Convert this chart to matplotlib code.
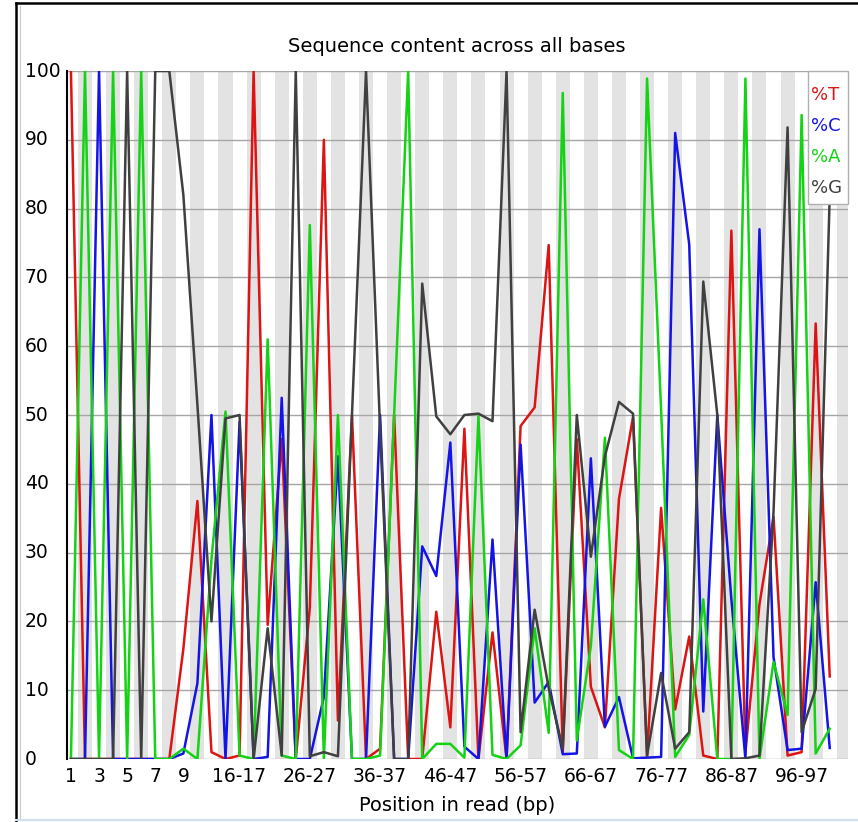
import matplotlib
matplotlib.use('Agg')
import matplotlib.pyplot as plt
import matplotlib.transforms as mtransforms
from matplotlib.lines import Line2D
from matplotlib.patches import Rectangle

# positions in read: 1..9 single, then pairs up to 100-101
positions = [str(i) for i in range(1, 10)] + ['%d-%d' % (i, i + 1) for i in range(10, 101, 2)]

t_pct = [100, 0, 0, 0, 0, 0, 0, 0, 16, 37.5,
         1, 0, 0.5, 100, 19.5, 46.5, 0, 22, 90, 5.6,
         50, 0, 1.5, 50, 0, 0, 21.4, 4.6, 48, 0,
         18.4, 0, 48.4, 51.1, 74.7, 1, 46.5, 10.5, 4.6, 37.8,
         49.7, 0.4, 36.5, 7.2, 17.8, 0.5, 0, 76.8, 1, 22.5,
         35.2, 0.5, 1, 63.3, 12]
c_pct = [0, 0, 100, 0, 0, 0, 0, 0, 0.8, 11,
         50, 0, 49, 0, 0.3, 52.5, 0, 0, 9, 44,
         0, 0, 50, 0, 0, 30.9, 26.6, 46, 1.8, 0,
         31.9, 0, 45.7, 8.2, 11.2, 0.7, 0.8, 43.7, 4.7, 9,
         0.1, 0.2, 0.3, 91, 74.8, 6.9, 50, 23.2, 0, 77,
         14.8, 1.3, 1.5, 25.7, 1.6]
a_pct = [0, 100, 0, 100, 0, 100, 0, 0, 1.5, 0,
         29, 50.5, 0.5, 0, 61, 0.5, 0, 77.6, 0, 50,
         0, 0, 0.5, 50, 100, 0, 2.2, 2.2, 0.2, 49.8,
         0.6, 0, 2, 19, 3.8, 96.8, 2.7, 16.4, 46.7, 1.3,
         0, 98.9, 50.7, 0.3, 3.5, 23.2, 0, 0, 98.9, 0,
         14.1, 6.4, 93.6, 0.8, 4.4]
g_pct = [0, 0, 0, 0, 100, 0, 100, 100, 82, 51.5,
         20, 49.5, 50, 0, 19, 0.5, 100, 0.4, 1, 0.4,
         50, 100, 48, 0, 0, 69.1, 49.8, 47.2, 50, 50.2,
         49.1, 100, 3.9, 21.7, 10.3, 1.5, 50, 29.4, 44, 51.9,
         50.2, 0.5, 12.5, 1.5, 3.9, 69.4, 50, 0, 0.1, 0.5,
         35.9, 91.8, 3.9, 10.2, 82]

tick_idx = [0, 2, 4, 6, 8, 12, 17, 22, 27, 32, 37, 42, 47, 52]
y_ticks = list(range(0, 101, 10))

series = [('%T', t_pct, '#dc1414'), ('%C', c_pct, '#1414e6'),
          ('%A', a_pct, '#14d214'), ('%G', g_pct, '#404040')]

W, H = 858, 822
fig = plt.figure(figsize=(W / 100, H / 100), dpi=100)
fig.patch.set_facecolor('white')
ax = fig.add_axes([67 / W, 63 / H, 781 / W, 688 / H])

n = len(positions)
x = list(range(n))

for k in range(1, n + 1, 2):
    ax.axvspan(k - 0.5, k + 0.5, color='#e3e3e3', lw=0, zorder=0)
for v in y_ticks:
    ax.axhline(v, color='#a6a6a6', lw=1, zorder=1)

for name, vals, col in series:
    ax.plot(x, vals, color=col, lw=1.8, zorder=3)

ax.set_xlim(-0.28, 55.3)
ax.set_ylim(0, 100)
for s in ['top', 'right', 'bottom']:
    ax.spines[s].set_visible(False)
ax.spines['left'].set_color('black')
ax.spines['left'].set_linewidth(1.5)
ax.spines['left'].set_zorder(4)

# y labels are left aligned in the original
ax.set_yticks(y_ticks)
ax.set_yticklabels([])
ax.tick_params(axis='y', length=0)
ytrans = mtransforms.blended_transform_factory(fig.transFigure, ax.transData)
for v in y_ticks:
    ax.text(25 / W, v, str(v), transform=ytrans, ha='left', va='center',
            fontsize=13.5, clip_on=False)

ax.set_xticks(tick_idx)
ax.set_xticklabels([positions[i] for i in tick_idx], fontsize=13.5)
ax.tick_params(axis='x', length=0, pad=6)

# legend box drawn by hand (text only, no handles)
fig.add_artist(Rectangle((808 / W, 1 - 204 / H), 40 / W, 133 / H,
                         transform=fig.transFigure, facecolor='white',
                         edgecolor='#b0b0b0', lw=1, zorder=5))
for i, (name, vals, col) in enumerate(series):
    fig.text(811 / W, 1 - (95 + 31 * i) / H, name, color=col, ha='left',
             va='center', fontsize=13, zorder=6)

fig.text(457 / W, 1 - 47 / H, 'Sequence content across all bases',
         ha='center', va='center', fontsize=14)
fig.text(457 / W, 1 - 805 / H, 'Position in read (bp)',
         ha='center', va='center', fontsize=14)

# screenshot frame
fig.add_artist(Line2D([16 / W, 1], [1 - 3 / H, 1 - 3 / H], color='black', lw=1.8))
fig.add_artist(Line2D([16 / W, 16 / W], [0, 1 - 3 / H], color='black', lw=1.8))
fig.add_artist(Line2D([19.5 / W, 19.5 / W], [2 / H, 1 - 6 / H], color='#c8c8c8', lw=0.8))
fig.add_artist(Line2D([16 / W, 1], [2 / H, 2 / H], color='#cfe0f0', lw=1.5))

fig.savefig('out.png', dpi=100)
